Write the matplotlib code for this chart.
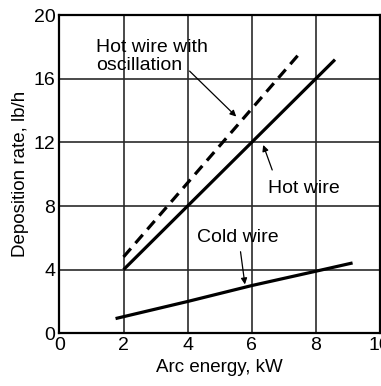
import numpy as np
import matplotlib
matplotlib.use('Agg')
import matplotlib.pyplot as plt

plt.rcParams['font.family'] = ['Liberation Sans', 'DejaVu Sans']

# values
hot_x = [2, 8.6]
hot_y = [4, 17.2]
osc_x = [2, 7.5]
osc_y = [4.8, 17.6]
cold_x = [1.8, 4, 6, 8, 9.1]
cold_y = [0.95, 2.0, 3.0, 3.9, 4.4]

x_ticks = [0, 2, 4, 6, 8, 10]
y_ticks = [0, 4, 8, 12, 16, 20]

fig = plt.figure(figsize=(3.81, 3.86), dpi=100)
ax = fig.add_axes([0.156, 0.1365, 0.841, 0.8245])

ax.set_xlim(0, 10)
ax.set_ylim(0, 20)
ax.set_xticks(x_ticks)
ax.set_yticks(y_ticks)
ax.tick_params(length=0, labelsize=14, pad=3)
for v in [2, 4, 6, 8]:
    ax.axvline(v, color='#2a2a2a', lw=1.2, zorder=1)
for v in [4, 8, 12, 16]:
    ax.axhline(v, color='#2a2a2a', lw=1.2, zorder=1)
for s in ax.spines.values():
    s.set_linewidth(1.6)

ax.plot(hot_x, hot_y, color='black', lw=2.3, solid_capstyle='butt', zorder=3)
ax.plot(osc_x, osc_y, color='black', lw=2.3, ls=(0, (3.5, 2.2)), zorder=3)
ax.plot(cold_x, cold_y, color='black', lw=2.3, zorder=3)

arr = dict(arrowstyle='-|>', color='black', lw=0.9, mutation_scale=9)
ax.text(1.15, 17.4, 'Hot wire with\noscillation', fontsize=14, ha='left', va='center', linespacing=1.05)
ax.annotate('', xy=(5.58, 13.5), xytext=(4.0, 16.6), arrowprops=arr)
ax.text(6.5, 9.1, 'Hot wire', fontsize=14, ha='left', va='center')
ax.annotate('', xy=(6.33, 12.0), xytext=(6.67, 10.1), arrowprops=arr)
ax.text(4.3, 6.0, 'Cold wire', fontsize=14, ha='left', va='center')
ax.annotate('', xy=(5.8, 2.9), xytext=(5.64, 5.3), arrowprops=arr)

ax.set_xlabel('Arc energy, kW', fontsize=13.5, labelpad=3)
ax.set_ylabel('Deposition rate, lb/h', fontsize=13.5, labelpad=3)

fig.savefig('out.png', dpi=100)
